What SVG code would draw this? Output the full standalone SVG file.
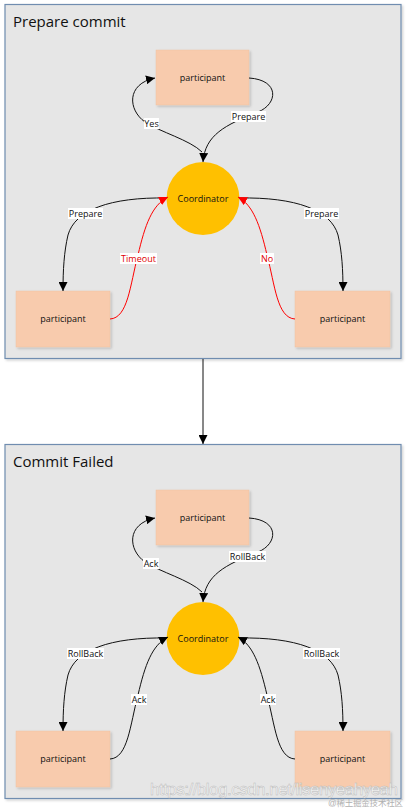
<svg xmlns="http://www.w3.org/2000/svg" width="407" height="809" viewBox="0 0 407 809">
<style>
.panel{fill:#e6e6e6;stroke:#6f8db0;stroke-width:1.2}
.title{font-family:"Open Sans","Noto Sans",sans-serif;font-size:15px;fill:#111}
.part{fill:#f8cbad;stroke:#efc2a2;stroke-width:0.5}
.coord{fill:#ffc000}
.nt{font-family:"Open Sans","Noto Sans",sans-serif;font-size:9px;fill:#111;text-anchor:middle}
.lk{fill:none;stroke:#111;stroke-width:1}
.lr{fill:none;stroke:#ff0000;stroke-width:1}
.lb{fill:#fff}
.lt{font-family:"Open Sans","Noto Sans",sans-serif;font-size:9px;fill:#111;text-anchor:middle}
.red{fill:#e00000}
</style>
<defs>
<marker id="ak" viewBox="0 0 10 10" refX="10" refY="5" markerWidth="9" markerHeight="9" markerUnits="userSpaceOnUse" orient="auto"><path d="M0,0 L10,5 L0,10 z" fill="#000"/></marker>
<marker id="ar" viewBox="0 0 10 10" refX="10" refY="5" markerWidth="9" markerHeight="9" markerUnits="userSpaceOnUse" orient="auto"><path d="M0,0 L10,5 L0,10 z" fill="#ff0000"/></marker>
<filter id="sh" x="-10%" y="-10%" width="130%" height="130%"><feDropShadow dx="1.5" dy="1.5" stdDeviation="1.2" flood-color="#000" flood-opacity="0.18"/></filter>
</defs>

<g id="panel1">
<rect class="panel" x="5" y="4.5" width="396" height="354" filter="url(#sh)"/>
<text class="title" x="13" y="27">Prepare commit</text>
</g>
<g id="panel2">
<rect class="panel" x="5" y="444.5" width="396" height="354" filter="url(#sh)"/>
<text class="title" x="13" y="467">Commit Failed</text>
</g>

<g id="p1-top"><rect class="part" x="156" y="50" width="93" height="55" filter="url(#sh)"/><text class="nt" x="202.5" y="81">participant</text></g>
<g id="p1-coord"><circle class="coord" cx="203" cy="198.5" r="36.5"/><text class="nt" x="203" y="202">Coordinator</text></g>
<g id="p1-left"><rect class="part" x="16" y="291" width="94" height="56" filter="url(#sh)"/><text class="nt" x="63" y="322">participant</text></g>
<g id="p1-right"><rect class="part" x="295" y="291" width="95" height="56" filter="url(#sh)"/><text class="nt" x="342.5" y="322">participant</text></g>

<g id="p2-top"><rect class="part" x="156" y="490" width="93" height="55" filter="url(#sh)"/><text class="nt" x="202.5" y="521">participant</text></g>
<g id="p2-coord"><circle class="coord" cx="203" cy="638.5" r="36.5"/><text class="nt" x="203" y="642">Coordinator</text></g>
<g id="p2-left"><rect class="part" x="16" y="731" width="94" height="56" filter="url(#sh)"/><text class="nt" x="63" y="762">participant</text></g>
<g id="p2-right"><rect class="part" x="295" y="731" width="95" height="56" filter="url(#sh)"/><text class="nt" x="342.5" y="762">participant</text></g>

<g id="connectors">
<path class="lk" d="M203 359 L203 444" marker-end="url(#ak)"/>

<path class="lk" d="M202 152 C190 140 160 132 145 122 C128 110 126 84 155 78" marker-end="url(#ak)"/>
<path class="lk" d="M249 78 C280 80 278 104 258 112 C225 125 205 135 203 162" marker-end="url(#ak)"/>
<path class="lk" d="M167 198 C110 197 75 210 68 235 C64 252 63 270 63 291" marker-end="url(#ak)"/>
<path class="lk" d="M239 198 C296 197 331 210 338 235 C342 252 343 270 343 291" marker-end="url(#ak)"/>
<path class="lr" d="M110 319 C128 318 130 285 138 255 C145 225 152 205 168 197" marker-end="url(#ar)"/>
<path class="lr" d="M295 319 C277 318 275 285 267 255 C260 225 253 205 238 197" marker-end="url(#ar)"/>

<path class="lk" d="M202 592 C190 580 160 572 145 562 C128 550 126 524 155 518" marker-end="url(#ak)"/>
<path class="lk" d="M249 518 C280 520 278 544 258 552 C225 565 205 575 203 602" marker-end="url(#ak)"/>
<path class="lk" d="M167 638 C110 637 75 650 68 675 C64 692 63 710 63 731" marker-end="url(#ak)"/>
<path class="lk" d="M239 638 C296 637 331 650 338 675 C342 692 343 710 343 731" marker-end="url(#ak)"/>
<path class="lk" d="M110 759 C128 758 130 725 138 695 C145 665 152 645 168 637" marker-end="url(#ak)"/>
<path class="lk" d="M295 759 C277 758 275 725 267 695 C260 665 253 645 238 637" marker-end="url(#ak)"/>

<rect class="lb" x="144" y="118" width="15" height="11"/><text class="lt" x="151.5" y="126.5">Yes</text>
<rect class="lb" x="231" y="111" width="35" height="11"/><text class="lt" x="248.5" y="119.5">Prepare</text>
<rect class="lb" x="68" y="208" width="35" height="11"/><text class="lt" x="85.5" y="216.5">Prepare</text>
<rect class="lb" x="304" y="208" width="35" height="11"/><text class="lt" x="321.5" y="216.5">Prepare</text>
<rect class="lb" x="120" y="253" width="37" height="11"/><text class="lt red" x="138.5" y="261.5">Timeout</text>
<rect class="lb" x="260" y="253" width="14" height="11"/><text class="lt red" x="267" y="261.5">No</text>

<rect class="lb" x="143" y="558" width="16" height="11"/><text class="lt" x="151" y="566.5">Ack</text>
<rect class="lb" x="229" y="551" width="37" height="11"/><text class="lt" x="247.5" y="559.5">RollBack</text>
<rect class="lb" x="67" y="648" width="37" height="11"/><text class="lt" x="85.5" y="656.5">RollBack</text>
<rect class="lb" x="303" y="648" width="37" height="11"/><text class="lt" x="321.5" y="656.5">RollBack</text>
<rect class="lb" x="131" y="694" width="16" height="11"/><text class="lt" x="139" y="702.5">Ack</text>
<rect class="lb" x="260" y="694" width="16" height="11"/><text class="lt" x="268" y="702.5">Ack</text>
</g>

<g id="watermark">
<text x="150" y="795" font-family="Liberation Sans, sans-serif" font-size="17" textLength="248" fill="#ffffff" fill-opacity="0.75" stroke="#bbbbbb" stroke-width="0.5">https://blog.csdn.net/lisenyeahyeah</text>
<text x="328" y="806" font-family="Liberation Sans, 'Noto Sans CJK SC', sans-serif" font-size="8.5" textLength="75" fill="#b0b0b0">@稀土掘金技术社区</text>
</g>
</svg>
